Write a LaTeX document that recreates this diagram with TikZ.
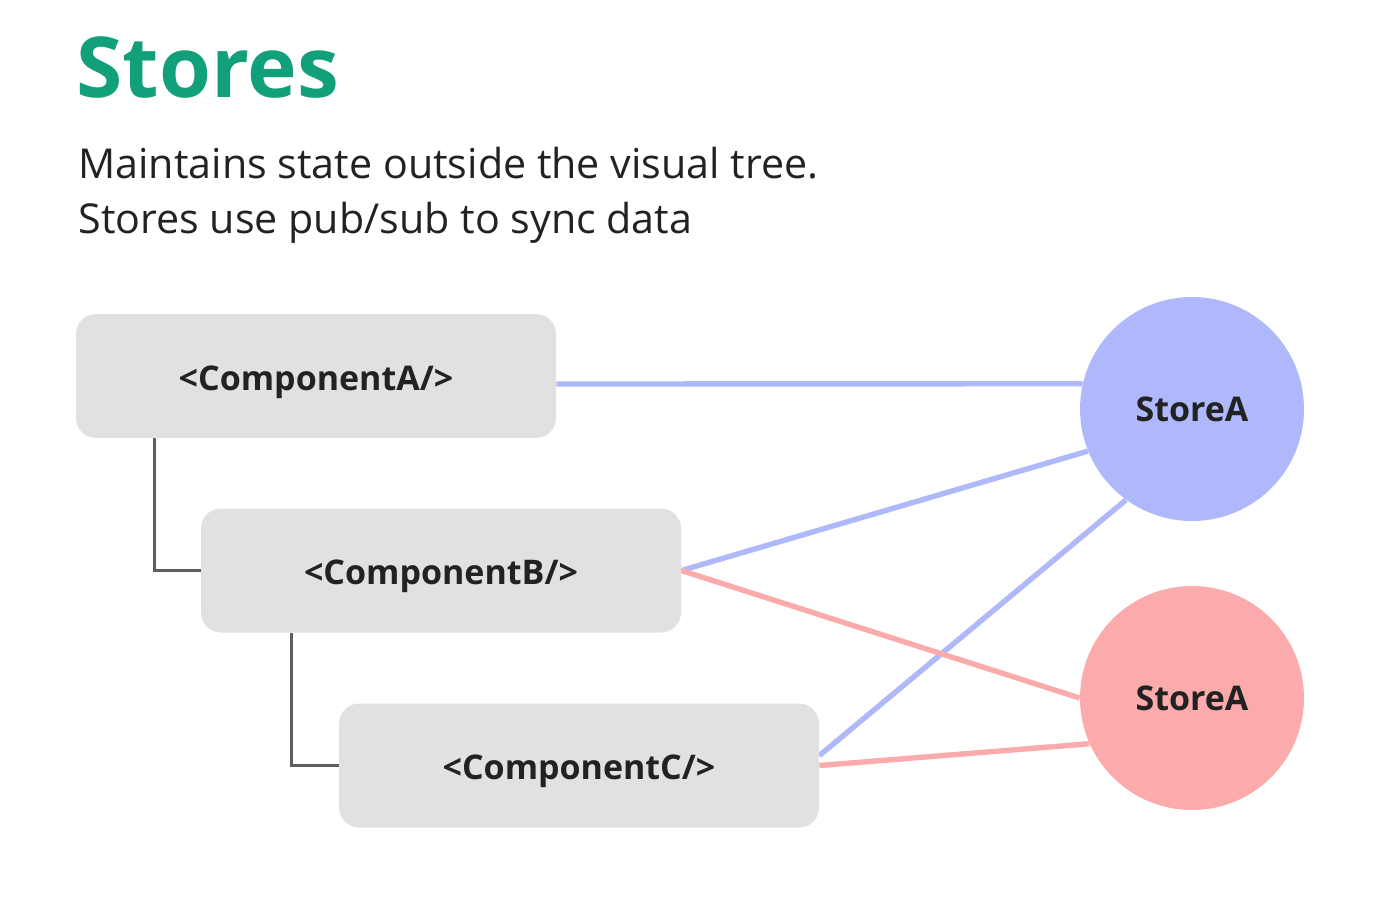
\documentclass[tikz,border=0pt]{standalone}
\usepackage{fontspec}
\setmainfont{Open Sans}
\usetikzlibrary{calc,backgrounds}
\definecolor{Title}{HTML}{12A07B}
\definecolor{Ink}{HTML}{222222}
\definecolor{CompFill}{HTML}{E1E1E1}
\definecolor{TreeLine}{HTML}{5E5E5E}
\definecolor{BlueStore}{HTML}{AEB8FA}
\definecolor{PinkStore}{HTML}{FBABAB}
\tikzset{
storecomp/.style={fill=CompFill, rounded corners=10pt, minimum width=240pt, minimum height=62pt, inner sep=0pt, text height=14pt, text depth=0pt, text=Ink, font=\bfseries\fontsize{17}{20}\selectfont},
storeblob/.style={circle, minimum size=112pt, inner sep=0pt, text=Ink, font=\bfseries\fontsize{17}{20}\selectfont},
storetree/.style={draw=TreeLine, line width=1.2pt},
storelink/.style={line width=2.7pt}
}

\begin{document}
\begin{tikzpicture}[x=0.5pt, y=-0.5pt]
  \useasboundingbox (0,0) rectangle (1400,902);
  \node[anchor=base west, inner sep=0pt, text=Title, font=\bfseries\fontsize{42}{48}\selectfont] (title) at (76,97) {Stores};
  \node[anchor=base west, inner sep=0pt, text=Ink, font=\fontsize{20.6}{24}\selectfont] (sub1) at (78,178) {Maintains state outside the visual tree.};
  \node[anchor=base west, inner sep=0pt, text=Ink, font=\fontsize{20.6}{24}\selectfont] (sub2) at (78,233) {Stores use pub/sub to sync data};
  \node[storecomp] (compA) at (316,376) {<ComponentA/>};
  \node[storecomp] (compB) at (441,570.5) {<ComponentB/>};
  \node[storecomp] (compC) at (579,765.5) {<ComponentC/>};
  \node[storeblob, fill=BlueStore] (storeBlue) at (1192,409) {StoreA};
  \node[storeblob, fill=PinkStore] (storePink) at (1192,698) {StoreA};
  \begin{scope}[on background layer]
    \draw[storetree] ($(compA.south west)+(79,0)$) |- (compB.west);
    \draw[storetree] ($(compB.south west)+(91,0)$) |- (compC.west);
    \draw[storelink, draw=BlueStore] ([yshift=-4pt]compA.east) -- (storeBlue.167);
    \draw[storelink, draw=BlueStore] (compB.east) -- (storeBlue.202);
    \draw[storelink, draw=BlueStore] ([yshift=5pt]compC.east) -- (storeBlue.234);
    \draw[storelink, draw=PinkStore] (compB.east) -- (storePink.180);
    \draw[storelink, draw=PinkStore] (compC.east) -- (storePink.204);
  \end{scope}
\end{tikzpicture}
\end{document}
